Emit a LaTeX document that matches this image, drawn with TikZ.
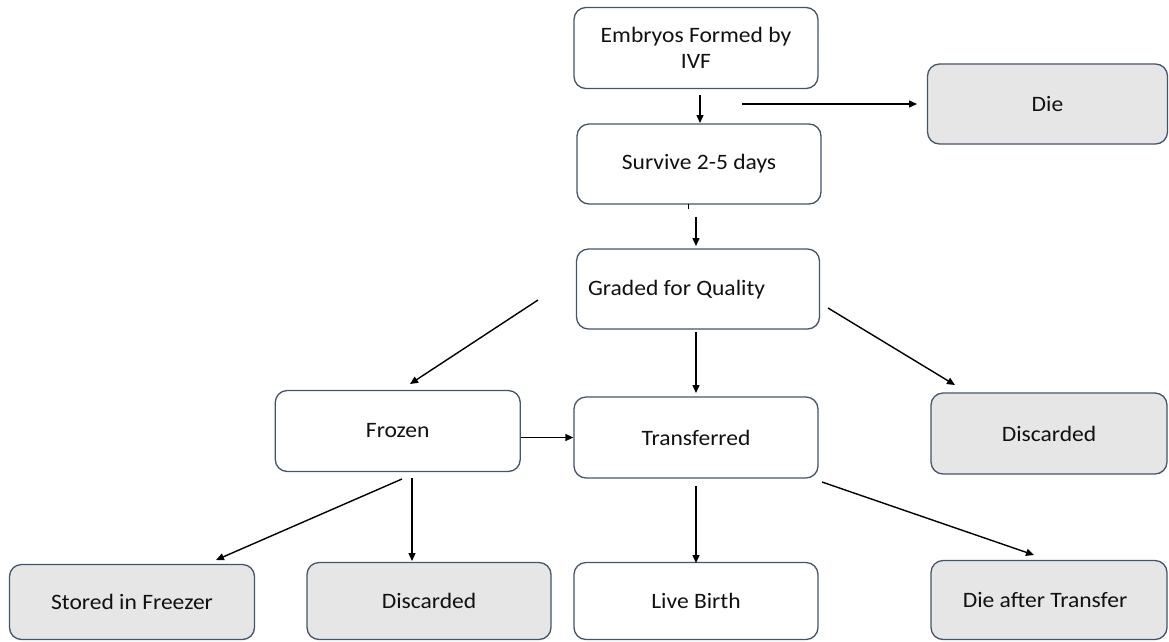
\documentclass[tikz,border=0pt]{standalone}
\usepackage{fontspec}
\setmainfont{Carlito}[FakeStretch=1.07]
\usetikzlibrary{arrows.meta}
\definecolor{boxline}{HTML}{44546A}
\definecolor{boxgray}{HTML}{E6E6E6}
\definecolor{txtcol}{HTML}{111111}
\tikzset{
  box/.style={draw=boxline, line width=1.3pt, rounded corners=12pt, fill=white,
    inner sep=0pt, text=txtcol, font=\fontsize{22}{25.5}\selectfont, align=center},
  graybox/.style={box, fill=boxgray},
  txt/.style={inner sep=0pt, text=txtcol, font=\fontsize{22}{25.5}\selectfont},
  arr/.style={line width=1.4pt, -{Triangle[length=8pt,width=7pt]}}
}
\begin{document}
\begin{tikzpicture}[x=1pt,y=-1pt]
\useasboundingbox (0,0) rectangle (1169,641);
% boxes
\node[box, minimum width=244pt, minimum height=81pt] (embryo) at (696,48) {Embryos Formed by\\IVF};
\node[graybox, minimum width=240pt, minimum height=80pt] (die) at (1047.5,104) {Die};
\node[box, minimum width=244pt, minimum height=80pt] (survive) at (699,164) {Survive 2-5 days};
\node[box, minimum width=243pt, minimum height=80pt] (graded) at (698,289) {};
\node[txt, anchor=west] (gradedtxt) at ([xshift=12pt,yshift=-1pt]graded.west) {Graded for Quality};
\node[box, minimum width=245pt, minimum height=81pt] (frozen) at (397.75,431) {Frozen};
\node[box, minimum width=244pt, minimum height=81pt] (transferred) at (696,437.5) {Transferred};
\node[graybox, minimum width=236pt, minimum height=81pt] (discR) at (1049,433.5) {Discarded};
\node[graybox, minimum width=245pt, minimum height=75pt] (stored) at (132,602) {Stored in Freezer};
\node[graybox, minimum width=244pt, minimum height=77pt] (discB) at (429,601) {Discarded};
\node[box, minimum width=244pt, minimum height=77pt] (live) at (696,601) {Live Birth};
\node[graybox, minimum width=236pt, minimum height=79pt] (dieafter) at (1049,600) {\hspace*{-8pt}Die after Transfer};
% connector end points
\coordinate (c1s) at (700,95);  \coordinate (c1e) at (700,123);
\coordinate (c2s) at (742,104); \coordinate (c2e) at (917,104);
\coordinate (c3s) at (696,217); \coordinate (c3e) at (696,246);
\coordinate (c4s) at (538,300); \coordinate (c4e) at (410,384);
\coordinate (c5s) at (696,332); \coordinate (c5e) at (696,393);
\coordinate (c6s) at (828,308); \coordinate (c6e) at (955,385);
\coordinate (c8s) at (402,479); \coordinate (c8e) at (216,560);
\coordinate (c9s) at (412,478); \coordinate (c9e) at (412,561);
\coordinate (c10s) at (696,486); \coordinate (c10e) at (696,563);
\coordinate (c11s) at (822,482); \coordinate (c11e) at (1034,555);
\coordinate (ticks) at (688,204); \coordinate (ticke) at (688,209);
% connectors
\draw[arr] (c1s) -- (c1e);
\draw[arr] (c2s) -- (c2e);
\draw[line width=1pt] (ticks) -- (ticke);
\draw[arr] (c3s) -- (c3e);
\draw[arr] (c4s) -- (c4e);
\draw[arr] (c5s) -- (c5e);
\draw[arr] (c6s) -- (c6e);
\draw[arr] (frozen.east |- transferred.west) -- (transferred.west);
\draw[arr] (c8s) -- (c8e);
\draw[arr] (c9s) -- (c9e);
\draw[arr] (c10s) -- (c10e);
\draw[arr] (c11s) -- (c11e);
\end{tikzpicture}
\end{document}
